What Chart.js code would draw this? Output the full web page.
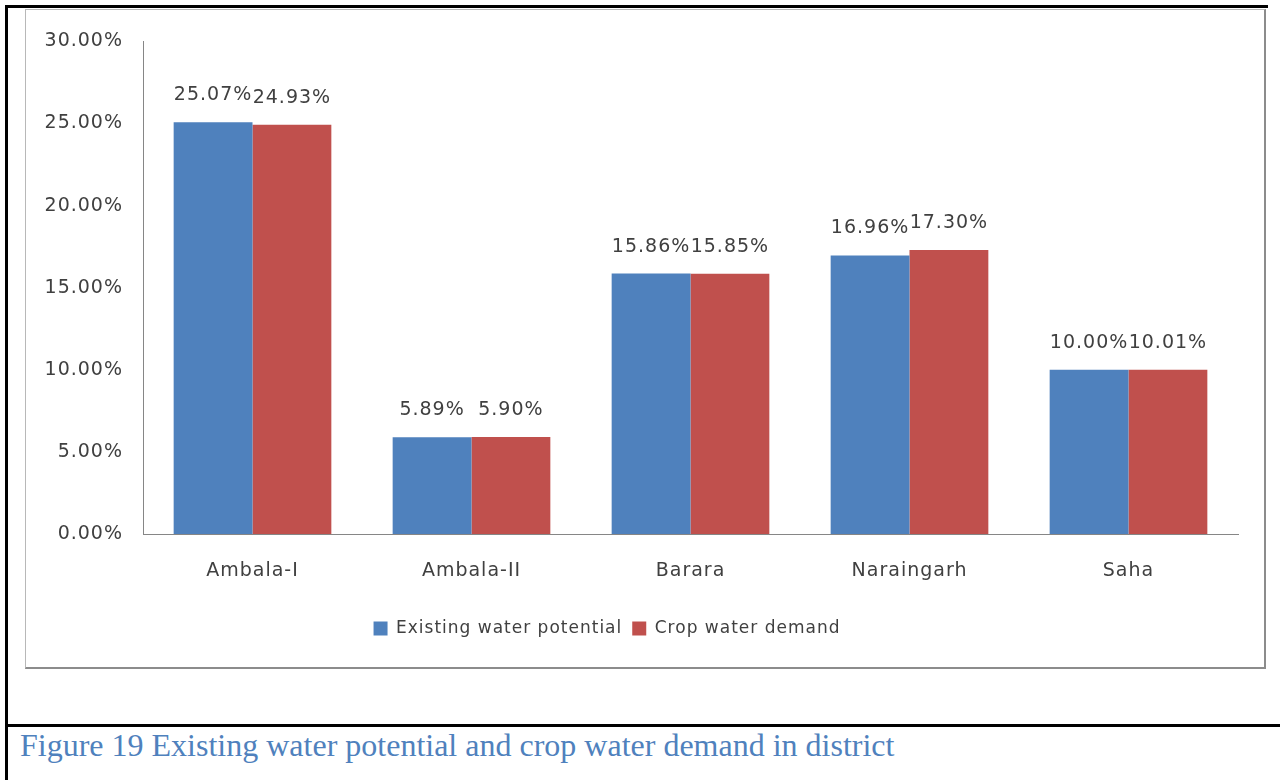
<!DOCTYPE html>
<html>
<head>
<meta charset="utf-8">
<script src="https://cdn.jsdelivr.net/npm/chart.js@4.4.1/dist/chart.umd.min.js"></script>
<style>
  html, body { margin: 0; padding: 0; background: #fff; }
  body { width: 1280px; height: 780px; position: relative; overflow: hidden; }
  .rule { position: absolute; background: #000; }
  #frame {
    position: absolute; left: 25px; top: 9px; width: 1238px; height: 657px;
    border: 1px solid #b8b8b8; border-right: 2px solid #8c8c8c; border-bottom: 2px solid #8c8c8c;
    background: #fff;
  }
  #chart { position: absolute; left: 0; top: 0; }
  #caption {
    position: absolute; left: 20px; top: 729px; line-height: 1;
    font-family: "Liberation Serif", "Times New Roman", serif; font-size: 32px;
    color: #4f81bd; white-space: nowrap;
  }
</style>
</head>
<body>
<div class="rule" style="left:5px; top:5px; width:1263px; height:3px;"></div>
<div class="rule" style="left:5px; top:5px; width:3px; height:775px;"></div>
<div class="rule" style="left:5px; top:724px; width:1275px; height:3px;"></div>
<div id="frame"><canvas id="chart" width="1238" height="657"></canvas></div>
<div id="caption">Figure 19 Existing water potential and crop water demand in district</div>
<script>
const blocks = ['Ambala-I', 'Ambala-II', 'Barara', 'Naraingarh', 'Saha'];
const existingPotential = [25.07, 5.89, 15.86, 16.96, 10.00];
const cropDemand = [24.93, 5.90, 15.85, 17.30, 10.01];
const seriesNames = ['Existing water potential', 'Crop water demand'];

const textColor = '#404040';
const spacing = '1px';

// canvas letterSpacing is lost whenever chart.js resizes the canvas, so set it again
const letterSpacingPlugin = {
  id: 'letterSpacing',
  beforeLayout(chart) { chart.ctx.letterSpacing = spacing; },
  beforeDraw(chart) { chart.ctx.letterSpacing = spacing; }
};

// legend sits a little left of the canvas centre
const legendShift = {
  id: 'legendShift',
  afterLayout(chart) {
    chart.legend.left -= 25;
    chart.legend.right -= 25;
  }
};

// percentage written above each bar
const valueLabels = {
  id: 'valueLabels',
  afterDatasetsDraw(chart) {
    const ctx = chart.ctx;
    ctx.save();
    ctx.letterSpacing = spacing;
    ctx.font = '19px "DejaVu Sans"';
    ctx.fillStyle = textColor;
    ctx.textAlign = 'center';
    ctx.textBaseline = 'middle';
    chart.data.datasets.forEach((ds, i) => {
      chart.getDatasetMeta(i).data.forEach((bar, j) => {
        ctx.fillText(ds.data[j].toFixed(2) + '%', bar.x, bar.y - 27);
      });
    });
    ctx.restore();
  }
};

new Chart(document.getElementById('chart'), {
  type: 'bar',
  data: {
    labels: blocks,
    datasets: [
      { label: seriesNames[0], data: existingPotential, backgroundColor: '#4f81bd' },
      { label: seriesNames[1], data: cropDemand, backgroundColor: '#c0504d' }
    ]
  },
  options: {
    responsive: false,
    animation: false,
    devicePixelRatio: 1,
    categoryPercentage: 0.72,
    barPercentage: 1,
    layout: { padding: { top: 31, right: 26, bottom: 20, left: 0 } },
    font: { family: '"DejaVu Sans"', size: 19 },
    color: textColor,
    plugins: {
      tooltip: { enabled: false },
      legend: {
        position: 'bottom',
        labels: {
          boxWidth: 14, boxHeight: 14, padding: 10,
          color: textColor, font: { family: '"DejaVu Sans"', size: 17 }
        }
      }
    },
    scales: {
      x: {
        grid: { display: false },
        border: { display: true, color: '#868686', width: 1 },
        ticks: { color: textColor, padding: 18, font: { size: 19 } },
        afterFit(scale) { scale.height = 76; }
      },
      y: {
        min: 0, max: 30,
        grid: { display: false, drawTicks: false },
        border: { display: true, color: '#868686', width: 1 },
        ticks: {
          stepSize: 5, color: textColor, padding: 20, font: { size: 19 },
          callback: v => v.toFixed(2) + '%'
        },
        afterFit(scale) { scale.width = 117; }
      }
    }
  },
  plugins: [letterSpacingPlugin, legendShift, valueLabels]
});
</script>
</body>
</html>
